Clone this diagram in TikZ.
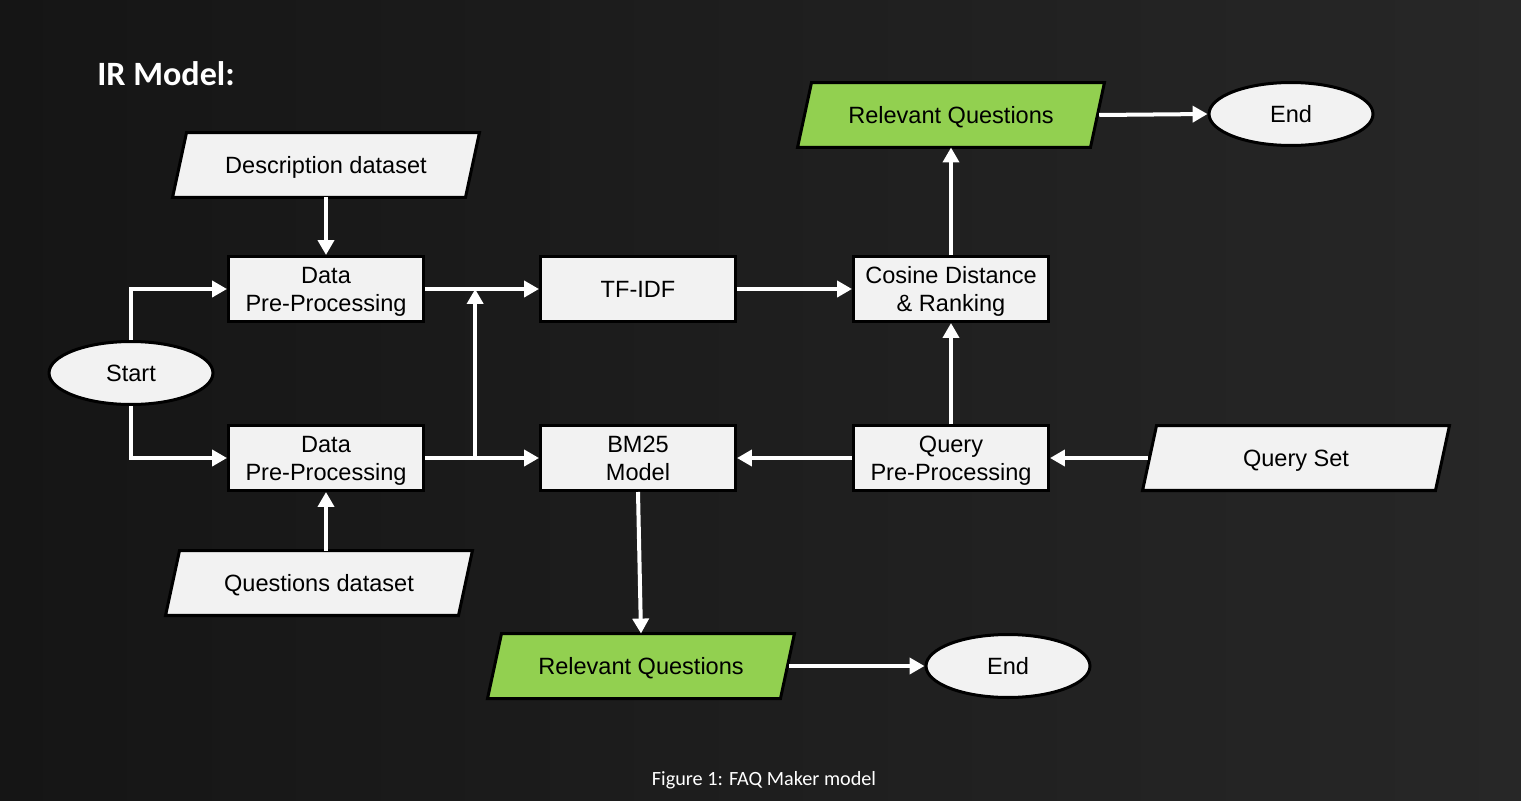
\documentclass[tikz,border=0pt]{standalone}
\usepackage{fontspec}
\setmainfont{Liberation Sans}
\newfontfamily\calib{Carlito}
\usetikzlibrary{shapes.geometric,arrows.meta,calc}
\definecolor{boxfill}{HTML}{F2F2F2}
\definecolor{qgreen}{HTML}{92D050}
\definecolor{bgA}{HTML}{151515}
\definecolor{bgB}{HTML}{272727}
\pgfdeclarelayer{bglayer}
\pgfdeclarelayer{shapelayer}
\pgfsetlayers{bglayer,shapelayer,main}
\begin{document}
\begin{tikzpicture}[x=0.02cm,y=-0.02cm,
 base/.style={draw=black,line width=1.71pt,text=black,font=\fontsize{13.4}{16}\selectfont,align=center,inner sep=0pt},
 oneline/.style={text height=12.06pt,text depth=2.47pt},
 twoline/.style={text height=28.23pt,text depth=2.68pt},
 procbox/.style={base,rectangle,fill=boxfill,minimum width=3.9cm,minimum height=1.3cm},
 iobox/.style={base,rectangle,draw=none,minimum width=5.86cm,minimum height=1.3cm,outer sep=0pt},
 parashape/.style={draw=black,line width=1.71pt,line join=miter,fill=boxfill},
 outshape/.style={parashape,fill=qgreen},
 termbox/.style={base,ellipse,fill=boxfill,minimum width=3.28cm,minimum height=1.26cm},
 arr/.style={draw=white,line width=2.28pt,-{Triangle[width=9.1pt,length=8.5pt]}},
]
\begin{pgfonlayer}{bglayer}
\shade[left color=bgA,right color=bgB] (0,0) rectangle (1521,801);
\end{pgfonlayer}
\useasboundingbox (0,0) rectangle (1521,801);

\node[anchor=base west,text=white,inner sep=0pt,font=\calib\bfseries\fontsize{19.4}{23}\selectfont] (title) at (97,85) {IR Model:};
\node[anchor=base,text=white,inner sep=0pt,font=\calib\fontsize{11.5}{14}\selectfont] (caption) at (764,785) {Figure 1: FAQ Maker model};

\node[iobox,oneline] (desc) at (326,165) {Description dataset};
\node[procbox,twoline] (dpp1) at (326,289) {Data\\Pre-Processing};
\node[procbox,twoline] (dpp2) at (326,458) {Data\\Pre-Processing};
\node[termbox,oneline] (start) at (131,373) {Start};
\node[iobox,oneline] (qdata) at (319,583) {Questions dataset};
\node[procbox,oneline] (tfidf) at (638,289) {TF-IDF};
\node[procbox,twoline] (bm25) at (638,458) {BM25\\Model};
\node[procbox,twoline] (cos) at (951,289) {Cosine Distance\\\& Ranking};
\node[procbox,twoline] (qpre) at (951,458) {Query\\Pre-Processing};
\node[iobox,oneline] (qset) at (1296,458) {Query Set};
\node[iobox,oneline] (relq1) at (951,115) {Relevant Questions};
\node[termbox,oneline] (end1) at (1291,114) {End};
\node[iobox,oneline] (relq2) at (641,666) {Relevant Questions};
\node[termbox,oneline] (end2) at (1008,666) {End};

\begin{pgfonlayer}{shapelayer}
\foreach \n/\s in {desc/parashape,qdata/parashape,qset/parashape,relq1/outshape,relq2/outshape}{
  \path[\s] ([xshift=0.14cm]\n.north west) -- ([xshift=0.14cm]\n.north east)
     -- ([xshift=-0.14cm]\n.south east) -- ([xshift=-0.14cm]\n.south west) -- cycle;
}
\end{pgfonlayer}

\draw[arr] (desc.south) -- (dpp1.north);
\draw[arr] (start.north) |- (dpp1.west);
\draw[arr] (start.south) |- (dpp2.west);
\draw[arr] (dpp1.east) -- (tfidf.west);
\draw[arr] (dpp2.east) -- (bm25.west);
\path (dpp2.east) -- (bm25.west) coordinate[pos=0.44] (jb);
\draw[arr] (jb) -- (jb |- dpp1.east);
\draw[arr] (tfidf.east) -- (cos.west);
\draw[arr] (qpre.north) -- (cos.south);
\draw[arr] (cos.north) -- (relq1.south);
\draw[arr] ([xshift=1pt]relq1.east) -- (end1.west);
\draw[arr] ([xshift=-1pt]qset.west) -- (qpre.east);
\draw[arr] (qpre.west) -- (bm25.east);
\draw[arr] (bm25.south) -- (relq2.north);
\draw[arr] ([xshift=1pt]relq2.east) -- (end2.west);
\draw[arr] (dpp2.south |- qdata.north) -- (dpp2.south);
\end{tikzpicture}
\end{document}
